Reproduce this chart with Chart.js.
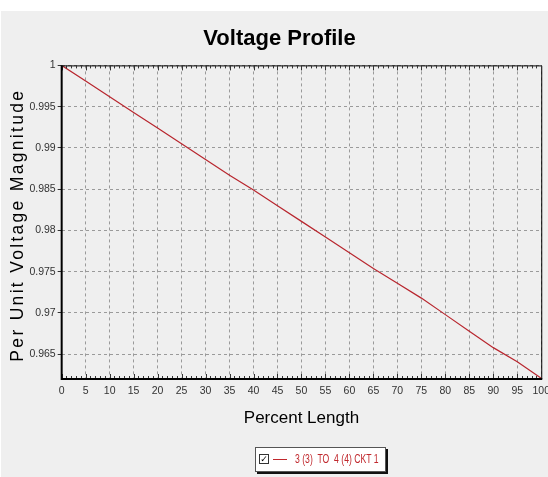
<!DOCTYPE html>
<html>
<head>
<meta charset="utf-8">
<script src="https://cdn.jsdelivr.net/npm/chart.js@4.4.1/dist/chart.umd.min.js"></script>
<style>
  html, body { margin: 0; padding: 0; background: #ffffff; }
  #wrap { position: relative; width: 548px; height: 477px; overflow: hidden; }
  #voltageChart { position: absolute; left: 0; top: 0; }
  .legend-box {
    position: absolute; left: 255px; top: 447px; width: 129px; height: 23px;
    background: #ffffff; border: 1px solid #555; box-shadow: 2px 2px 0 #111;
  }
  .legend-check {
    position: absolute; left: 3px; top: 6px; width: 8px; height: 8px; border: 1px solid #333;
    font-size: 9px; line-height: 8px; text-align: center; color: #000;
    font-family: 'DejaVu Sans', sans-serif;
  }
  .legend-line { position: absolute; left: 17px; top: 11px; width: 14px; border-top: 1px solid #c0282d; }
  .legend-text {
    position: absolute; left: 39px; top: 4px; white-space: nowrap;
    font-family: 'Liberation Sans', Arial, sans-serif; font-size: 12px; color: #c0282d;
    transform: scaleX(0.72); transform-origin: left center;
  }
</style>
</head>
<body>
<div id="wrap">
  <canvas id="voltageChart" width="556" height="477"></canvas>
  <div class="legend-box">
    <div class="legend-check">✓</div>
    <div class="legend-line"></div>
    <div class="legend-text">3 (3)&nbsp; TO&nbsp; 4 (4) CKT 1</div>
  </div>
</div>
<script>
// ========== VOLTAGE PROFILE ==========

const percentLength = [0, 5, 10, 15, 20, 25, 30, 35, 40, 45, 50, 55, 60, 65, 70, 75, 80, 85, 90, 95, 100];
const voltageMagnitude = [1, 0.9981, 0.9962, 0.9943, 0.9924, 0.9905, 0.9886, 0.9867, 0.9849, 0.983,
  0.9811, 0.9792, 0.9773, 0.9754, 0.9736, 0.9718, 0.9698, 0.9678, 0.9658, 0.9641, 0.9621];
const yTicks = [0.965, 0.97, 0.975, 0.98, 0.985, 0.99, 0.995, 1];
const seriesLabel = '3 (3)  TO  4 (4) CKT 1';
const yTitle = 'Per Unit Voltage Magnitude';

const plainFont = "'Liberation Sans', Arial, sans-serif";

// Fundo cinza com faixa branca no topo
const backgroundPlugin = {
  id: 'background',
  beforeDraw(chart) {
    const ctx = chart.ctx;
    ctx.save();
    ctx.fillStyle = '#ffffff';
    ctx.fillRect(0, 0, chart.width, chart.height);
    ctx.fillStyle = '#efefef';
    ctx.fillRect(1, 11, chart.width - 1, chart.height - 11);
    ctx.restore();
  }
};

// Moldura da area, ticks menores e titulo do eixo Y espacado
const framePlugin = {
  id: 'frame',
  afterDatasetsDraw(chart) {
    const { ctx, chartArea: a, scales } = chart;
    ctx.save();
    ctx.strokeStyle = '#000';
    ctx.lineWidth = 1;
    ctx.beginPath();
    ctx.moveTo(a.left, a.top + 0.5);
    ctx.lineTo(a.right + 0.5, a.top + 0.5);
    ctx.lineTo(a.right + 0.5, a.bottom);
    ctx.stroke();

    ctx.strokeStyle = '#333';
    for (let i = 0; i <= 100; i++) {
      const x = Math.round(scales.x.getPixelForValue(i)) + 0.5;
      const len = i % 5 === 0 ? 5 : 3;
      ctx.beginPath();
      ctx.moveTo(x, a.bottom);
      ctx.lineTo(x, a.bottom - len);
      ctx.moveTo(x, a.top);
      ctx.lineTo(x, a.top + len);
      ctx.stroke();
    }
    ctx.lineWidth = 2;
    ctx.strokeStyle = '#000';
    ctx.beginPath();
    ctx.moveTo(a.left, a.top);
    ctx.lineTo(a.left, a.bottom);
    ctx.lineTo(a.right + 1, a.bottom);
    ctx.stroke();

    // titulo Y
    ctx.translate(18, (a.top + a.bottom) / 2 + 3);
    ctx.rotate(-Math.PI / 2);
    ctx.font = '17.5px ' + plainFont;
    ctx.letterSpacing = '2.3px';
    ctx.fillStyle = '#000';
    ctx.textAlign = 'center';
    ctx.textBaseline = 'middle';
    ctx.fillText(yTitle, 0, 0);
    ctx.restore();
  }
};

const ctx = document.getElementById('voltageChart').getContext('2d');

new Chart(ctx, {
  type: 'line',
  data: {
    labels: percentLength,
    datasets: [{
      label: seriesLabel,
      data: percentLength.map((p, i) => ({ x: p, y: voltageMagnitude[i] })),
      borderColor: '#b8262e',
      borderWidth: 1.2,
      pointRadius: 0,
      tension: 0,
      fill: false
    }]
  },
  options: {
    responsive: false,
    animation: false,
    layout: { padding: { left: 3, right: 0, top: 0, bottom: 48 } },
    plugins: {
      legend: { display: false },
      tooltip: { enabled: false },
      title: {
        display: true,
        text: 'Voltage Profile',
        color: '#000',
        font: { family: plainFont, size: 22, weight: 'bold' },
        padding: { top: 26, bottom: 13 }
      }
    },
    scales: {
      x: {
        type: 'linear',
        min: 0,
        max: 100,
        ticks: {
          stepSize: 5,
          color: '#333',
          font: { family: plainFont, size: 10.5 },
          maxRotation: 0,
          autoSkip: false,
          padding: 6
        },
        grid: { color: '#9a9a9a', drawTicks: false, tickLength: 0 },
        border: { display: false, dash: [3, 3] },
        title: {
          display: true,
          text: 'Percent Length',
          color: '#000',
          font: { family: plainFont, size: 17 },
          padding: { top: 5, bottom: 0 }
        }
      },
      y: {
        type: 'linear',
        min: 0.962,
        max: 1,
        afterBuildTicks(scale) {
          scale.ticks = yTicks.map(v => ({ value: v }));
        },
        ticks: {
          color: '#333',
          font: { family: plainFont, size: 10.5 },
          padding: 2,
          callback: v => String(Number(v.toFixed(3)))
        },
        grid: { color: '#9a9a9a', tickLength: 4, tickColor: '#333' },
        border: { display: false, dash: [3, 3] },
        title: {
          display: true,
          text: yTitle,
          color: 'rgba(0,0,0,0)',
          font: { family: plainFont, size: 17 },
          padding: { top: 0, bottom: 4 }
        }
      }
    }
  },
  plugins: [backgroundPlugin, framePlugin]
});
</script>
</body>
</html>
